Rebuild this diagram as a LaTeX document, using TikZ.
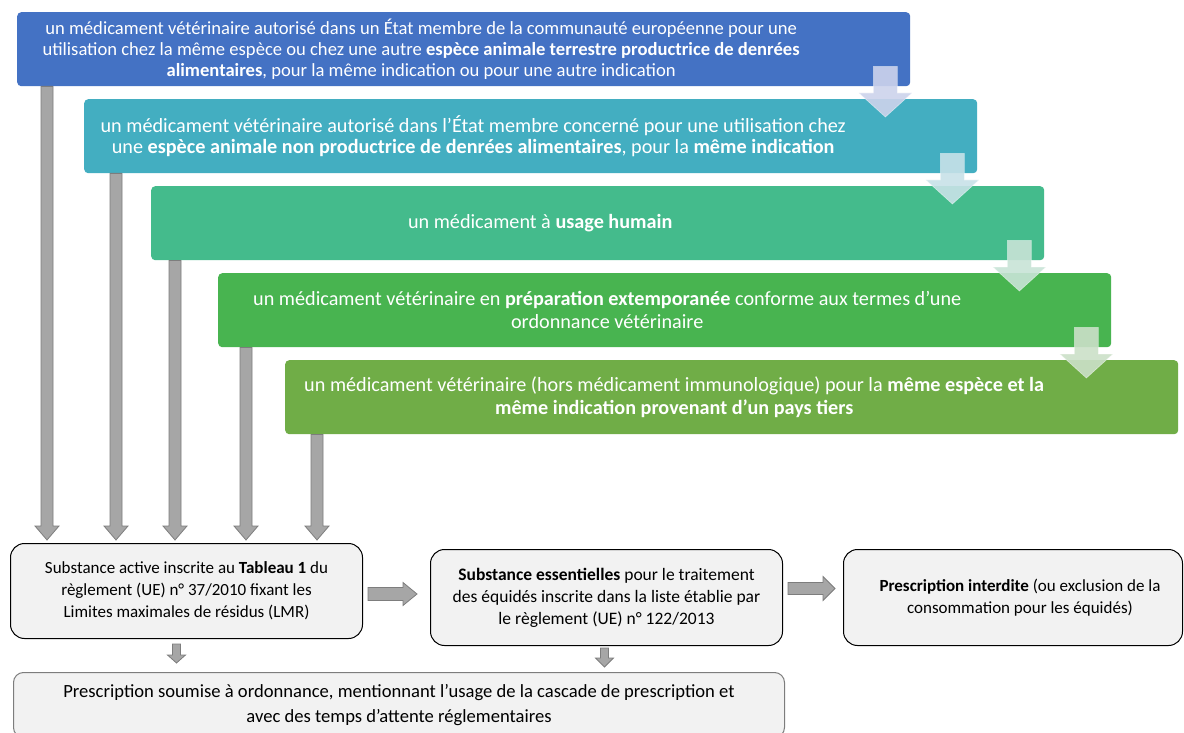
\documentclass[tikz,border=0pt]{standalone}
\usepackage{fontspec}
\setmainfont{Carlito}
\usetikzlibrary{calc}

\definecolor{stepone}{RGB}{68,114,196}
\definecolor{steptwo}{RGB}{67,174,193}
\definecolor{stepthree}{RGB}{68,187,140}
\definecolor{stepfour}{RGB}{72,180,80}
\definecolor{stepfive}{RGB}{112,173,71}
\definecolor{flowone}{RGB}{205,211,236}
\definecolor{flowtwo}{RGB}{200,226,232}
\definecolor{flowthree}{RGB}{200,228,215}
\definecolor{flowfour}{RGB}{203,224,200}
\definecolor{boxgray}{RGB}{242,242,242}
\definecolor{arrowgray}{RGB}{166,166,166}
\definecolor{arrowedge}{RGB}{125,125,125}

% text of a step, centred on the part left of the arrow
\newcommand\steptext[2][778pt]{\begin{minipage}{#1}\centering #2\end{minipage}\hspace*{\dimexpr893pt-#1\relax}}

% block arrows: style, from, to, shaft half width, head half width, head length
\newcommand\downblock[6]{%
  \path[#1] let \p1=(#2), \p2=(#3) in
    (\x1-#4,\y1) -- (\x1+#4,\y1) -- (\x1+#4,\y2+#6) -- (\x1+#5,\y2+#6)
    -- (\x1,\y2) -- (\x1-#5,\y2+#6) -- (\x1-#4,\y2+#6) -- cycle;}
\newcommand\rightblock[6]{%
  \path[#1] let \p1=(#2), \p2=(#3) in
    (\x1,\y1+#4) -- (\x2-#6,\y1+#4) -- (\x2-#6,\y1+#5) -- (\x2,\y1)
    -- (\x2-#6,\y1-#5) -- (\x2-#6,\y1-#4) -- (\x1,\y1-#4) -- cycle;}

\tikzset{
  stepbox/.style={rounded corners=4pt, anchor=north west, inner sep=0pt,
    minimum width=893pt, minimum height=74pt, text=white,
    font=\fontsize{20.2}{22.5}\selectfont},
  rulebox/.style={draw=black, line width=1pt, fill=boxgray, rounded corners=14pt,
    anchor=north west, inner sep=0pt, align=center,
    font=\fontsize{17}{22}\selectfont},
  garrow/.style={fill=arrowgray, draw=arrowedge, line width=0.8pt},
  flow/.style={fill=#1, fill opacity=0.9, draw=white, draw opacity=0.5, line width=0.6pt},
}

\begin{document}
\begin{tikzpicture}[x=1pt,y=-1pt]
  \useasboundingbox (0,0) rectangle (1184,733);
  \fill[white] (0,0) rectangle (1184,733);

  % the cascade
  \node[stepbox, fill=stepone, font=\fontsize{18.6}{21}\selectfont] (b1) at (17,12) {\steptext[808pt]{un médicament vétérinaire autorisé dans un État membre de la communauté européenne pour une\\
    utilisation chez la même espèce ou chez une autre \textbf{espèce animale terrestre productrice de denrées}\\
    \textbf{alimentaires}, pour la même indication ou pour une autre indication}};
  \node[stepbox, fill=steptwo, font=\fontsize{20.2}{21}\selectfont] (b2) at (84,99) {\steptext{un médicament vétérinaire autorisé dans l’État membre concerné pour une utilisation chez\\
    une \textbf{espèce animale non productrice de denrées alimentaires}, pour la \textbf{même indication}}};
  \node[stepbox, fill=stepthree] (b3) at (151,186) {\steptext{un médicament à \textbf{usage humain}}};
  \node[stepbox, fill=stepfour] (b4) at (218,273) {\steptext{un médicament vétérinaire en \textbf{préparation extemporanée} conforme aux termes d’une\\
    ordonnance vétérinaire}};
  \node[stepbox, fill=stepfive] (b5) at (285,360) {\steptext{un médicament vétérinaire (hors médicament immunologique) pour la \textbf{même espèce et la}\\
    \textbf{même indication provenant d'un pays tiers}}};

  \downblock{flow=flowone}{$(b1.south east)+(-25,-20)$}{$(b2.north)+(0,18)$}{12pt}{26.5pt}{24pt}
  \downblock{flow=flowtwo}{$(b2.south east)+(-25,-20)$}{$(b3.north)+(0,18)$}{12pt}{26.5pt}{24pt}
  \downblock{flow=flowthree}{$(b3.south east)+(-25,-20)$}{$(b4.north)+(0,18)$}{12pt}{26.5pt}{24pt}
  \downblock{flow=flowfour}{$(b4.south east)+(-25,-20)$}{$(b5.north)+(0,18)$}{12pt}{26.5pt}{24pt}

  % the rules
  \node[rulebox, minimum width=352pt, minimum height=95pt] (lmr) at (10,543)
    {Substance active inscrite au \textbf{Tableau 1} du\\
     règlement (UE) n° 37/2010 fixant les\\
     Limites maximales de résidus (LMR)};
  \node[rulebox, minimum width=352pt, minimum height=96pt, font=\fontsize{17.5}{22}\selectfont] (equ) at (430,549)
    {\textbf{Substance essentielles} pour le traitement\\
     des équidés inscrite dans la liste établie par\\
     le règlement (UE) n° 122/2013};
  \node[rulebox, minimum width=339pt, minimum height=96pt] (ban) at (843,549)
    {\hspace*{14pt}\textbf{Prescription interdite} (ou exclusion de la\\
     \hspace*{14pt}consommation pour les équidés)};
  \node[rulebox, draw=arrowedge, rounded corners=10pt, minimum width=771pt, minimum height=65pt,
    font=\fontsize{18.6}{25}\selectfont] (ord) at (13,672)
    {Prescription soumise à ordonnance, mentionnant l’usage de la cascade de prescription et\\
     avec des temps d’attente réglementaires};

  \downblock{garrow}{$(b1.south west)+(30,0)$}{$(lmr.north)+(0,-3)$}{6pt}{12pt}{14pt}
  \downblock{garrow}{$(b2.south west)+(32,0)$}{$(lmr.north)+(0,-3)$}{6pt}{12pt}{14pt}
  \downblock{garrow}{$(b3.south west)+(24,0)$}{$(lmr.north)+(0,-3)$}{6pt}{12pt}{14pt}
  \downblock{garrow}{$(b4.south west)+(28,0)$}{$(lmr.north)+(0,-3)$}{6pt}{12pt}{14pt}
  \downblock{garrow}{$(b5.south west)+(32,0)$}{$(lmr.north)+(0,-3)$}{6pt}{12pt}{14pt}

  \rightblock{garrow}{$(lmr.east)+(5,3)$}{$(equ.west)+(-13,0)$}{6.5pt}{11.5pt}{14pt}
  \rightblock{garrow}{$(equ.east)+(5,-9)$}{$(ban.west)+(-8,0)$}{6pt}{12pt}{12pt}
  \downblock{garrow}{$(lmr.south)+(-10,5)$}{$(ord.north)+(0,-9)$}{4pt}{9pt}{8pt}
  \downblock{garrow}{$(equ.south)+(-2,2)$}{$(ord.north)+(0,-5)$}{4pt}{9pt}{9pt}
\end{tikzpicture}
\end{document}
